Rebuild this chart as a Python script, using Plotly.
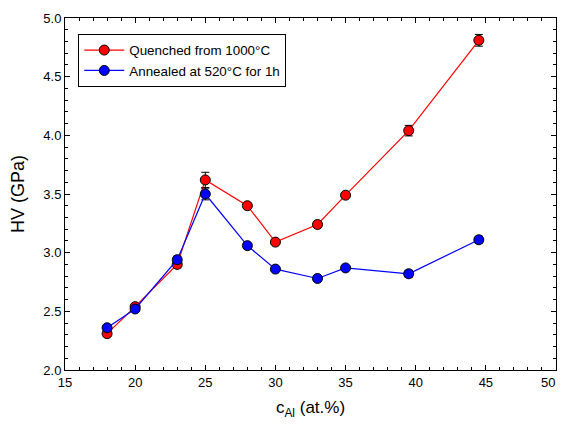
import plotly.graph_objects as go

x_vals = [18, 20, 23, 25, 28, 30, 33, 35, 39.5, 44.5]
quenched = [2.31, 2.54, 2.90, 3.62, 3.40, 3.09, 3.24, 3.49, 4.04, 4.81]
quenched_err = [0.02, 0.02, 0.03, 0.065, 0.02, 0.02, 0.02, 0.02, 0.045, 0.05]
annealed = [2.36, 2.52, 2.94, 3.50, 3.06, 2.86, 2.78, 2.87, 2.82, 3.11]
annealed_err = [0.02, 0.02, 0.03, 0.05, 0.02, 0.02, 0.02, 0.02, 0.03, 0.03]
x_ticks = [15, 20, 25, 30, 35, 40, 45, 50]
x_tick_labels = ["15", "20", "25", "30", "35", "40", "45", ""]
last_x_label = "50"

FONT = "Liberation Sans, Arial"

fig = go.Figure()
for name, ys, es, col in [
    ("Quenched from 1000°C", quenched, quenched_err, "#ff0000"),
    ("Annealed at 520°C for 1h", annealed, annealed_err, "#0000ff"),
]:
    fig.add_trace(go.Scatter(
        x=x_vals, y=ys, name=name, mode="lines+markers",
        line=dict(color=col, width=1.2),
        marker=dict(color=col, size=10, line=dict(color="black", width=1)),
        error_y=dict(type="data", array=es, color="black", thickness=1, width=4),
    ))

axis_common = dict(
    showline=True, linecolor="black", linewidth=1, mirror="allticks",
    ticks="inside", ticklen=5, tickcolor="black", showgrid=False, zeroline=False,
    automargin=False, ticklabeloverflow="allow",
    tickfont=dict(family=FONT, size=13, color="black"),
)
fig.update_xaxes(range=[15, 50], tickvals=x_ticks, ticktext=x_tick_labels,
                 minor=dict(ticks="inside", dtick=1, ticklen=3, tickcolor="black"),
                 title=dict(text="c<sub>Al</sub> (at.%)", font=dict(family=FONT, size=17, color="black"), standoff=14),
                 **axis_common)
fig.update_yaxes(range=[2.0, 5.0], dtick=0.5, tickformat=".1f",
                 minor=dict(ticks="inside", dtick=0.1, ticklen=3, tickcolor="black"),
                 title=dict(text="HV (GPa)", font=dict(family=FONT, size=18, color="black"), standoff=20),
                 **axis_common)
# last tick label kept inside the visible window
fig.add_annotation(x=x_ticks[-1], xref="x", y=0, yref="paper", text=last_x_label,
                   showarrow=False, xanchor="right", yanchor="top", yshift=-3, xshift=1,
                   font=dict(family=FONT, size=13, color="black"))
# The page body adds an 8px margin; size the figure to fit inside the window.
fig.update_layout(
    width=557, height=412,
    margin=dict(l=57, r=9, t=10, b=50),
    paper_bgcolor="white", plot_bgcolor="white",
    showlegend=True,
    legend=dict(x=0.027, y=0.955, xanchor="left", yanchor="top",
                bordercolor="black", borderwidth=1, bgcolor="white",
                font=dict(family=FONT, size=13.4, color="black"),
                tracegroupgap=0, itemwidth=40),
)
fig.write_html("out.html")
